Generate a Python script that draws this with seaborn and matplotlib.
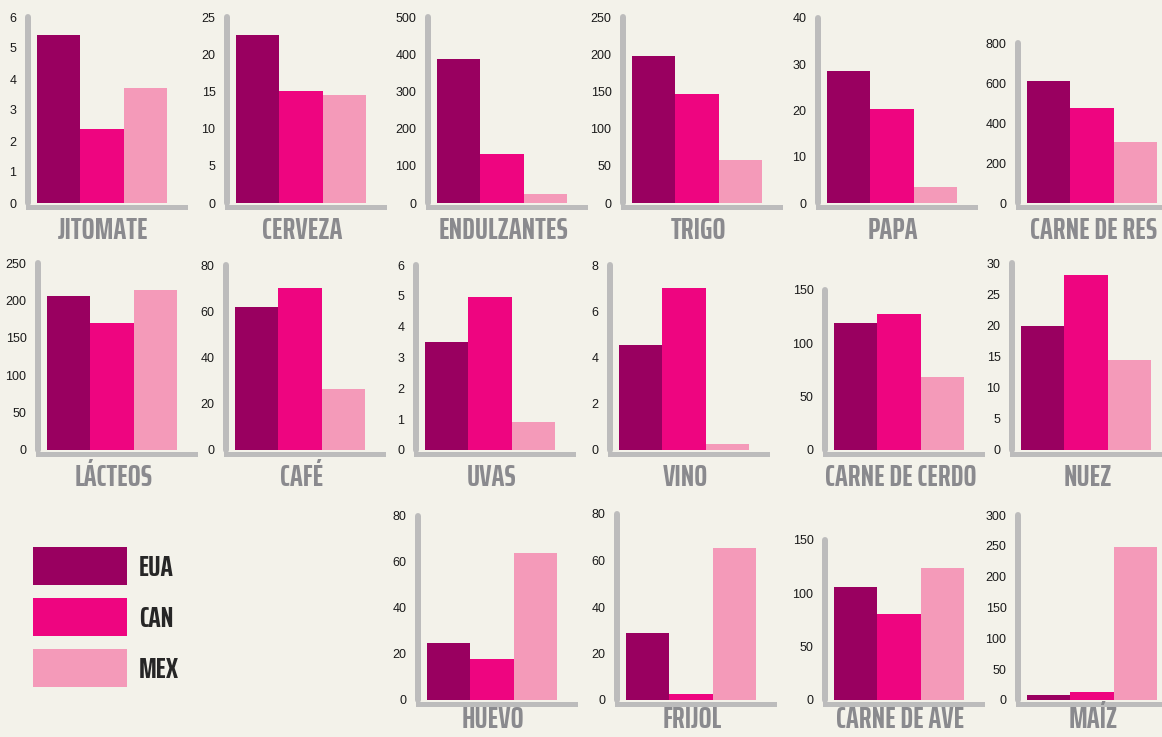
import matplotlib
matplotlib.use("Agg")
import matplotlib.pyplot as plt
import numpy as np
import pandas as pd
import seaborn as sns
from matplotlib.patches import Patch

# Datos
productos = ["JITOMATE", "CERVEZA", "ENDULZANTES", "TRIGO", "PAPA", "CARNE DE RES",
             "LÁCTEOS", "CAFÉ", "UVAS", "VINO", "CARNE DE CERDO", "NUEZ",
             "HUEVO", "FRIJOL", "CARNE DE AVE", "MAÍZ"]
eua = [5.42, 22.6, 388, 198, 28.6, 610, 206, 61.7, 3.5, 4.56, 119, 19.9, 25, 29, 106, 8]
can = [2.4, 15.0, 133, 146, 20.4, 475, 170, 70, 4.97, 7.0, 127.5, 28.1, 18, 2.5, 81, 13]
mex = [3.7, 14.5, 25, 58, 3.5, 305, 214, 26.5, 0.91, 0.25, 68, 14.4, 64, 65.5, 124, 248]
y_max = [6, 25, 500, 250, 40, 800, 250, 80, 6, 8, 150, 30, 80, 80, 150, 300]
y_paso = [1, 5, 100, 50, 10, 200, 50, 20, 1, 2, 50, 5, 20, 20, 50, 50]
paises = ["EUA", "CAN", "MEX"]
colores = ["#990060", "#ee0580", "#f49ab9"]

# Posición de cada panel en píxeles: eje y (x), tope, línea de cero
layout = [(28, 17, 203), (227, 17, 203), (428, 17, 203), (623, 17, 203), (818, 18, 203), (1018, 43, 203),
          (38, 263, 450), (226, 265, 450), (416, 265, 450), (610, 265, 450), (825, 290, 450), (1012, 263, 450),
          (418, 516, 700), (617, 514, 700), (825, 540, 700), (1018, 515, 700)]

W, H = 1162, 737
fondo = "#f3f2ea"
gris = "#bcbcbc"
gris_txt = "#8a8a8e"
fuente_cond = ["Saira ExtraCondensed", "DejaVu Sans"]

sns.set_style("white")
plt.rcParams["font.family"] = ["Liberation Sans", "DejaVu Sans"]

df = pd.DataFrame({
    "producto": np.repeat(productos, 3),
    "pais": paises * len(productos),
    "valor": np.ravel(np.column_stack([eua, can, mex])),
})

fig = plt.figure(figsize=(W / 100, H / 100), dpi=100, facecolor=fondo)

ancho_px = 157
px_barra = 130 / 3
for i, prod in enumerate(productos):
    x0, top, zero = layout[i]
    ax = fig.add_axes([x0 / W, (H - zero) / H, ancho_px / W, (zero - top) / H])
    ax.set_facecolor("none")
    sub = df[df["producto"] == prod]
    sns.barplot(data=sub, x="pais", y="valor", hue="pais", order=paises, hue_order=paises,
                palette=colores, width=1, saturation=1, errorbar=None, linewidth=0,
                legend=False, ax=ax)
    left = -0.5 - 9 / px_barra
    ax.set_xlim(left, left + ancho_px / px_barra)
    ax.set_ylim(0, y_max[i])
    ax.set_yticks(np.arange(0, y_max[i] + y_paso[i] / 2, y_paso[i]))
    ax.set_xticks([])
    ax.set_xlabel("")
    ax.set_ylabel("")
    for s in ["top", "right"]:
        ax.spines[s].set_visible(False)
    ax.spines["left"].set_color(gris)
    ax.spines["left"].set_linewidth(4.3)
    ax.spines["left"].set_capstyle("round")
    ax.spines["bottom"].set_color(gris)
    ax.spines["bottom"].set_linewidth(3.6)
    ax.spines["bottom"].set_position(("outward", 3))
    ax.tick_params(axis="y", direction="inout", length=6.5, width=2.2, color=gris,
                   pad=5, labelsize=9, labelcolor="#1a1a1a")
    # la última fila queda pegada al borde inferior: subir un poco el nombre
    base_px = min(36, H - 9 - zero)
    ax.annotate(prod, xy=(0.48, 0), xycoords="axes fraction", xytext=(0, -base_px * 0.72),
                textcoords="offset points", ha="center", va="baseline",
                fontsize=22, fontweight="bold", color=gris_txt, family=fuente_cond,
                annotation_clip=False)

handles = [Patch(facecolor=c, edgecolor="none", label=p) for p, c in zip(paises, colores)]
fig.legend(handles=handles, loc="upper left", bbox_to_anchor=(33 / W, 1 - 547 / H),
           frameon=False, borderpad=0, borderaxespad=0, handlelength=3.22,
           handleheight=1.625, handletextpad=0.41, labelspacing=0.45,
           prop={"family": fuente_cond, "weight": "bold", "size": 21})

fig.savefig("out.png", dpi=100, facecolor=fondo)
